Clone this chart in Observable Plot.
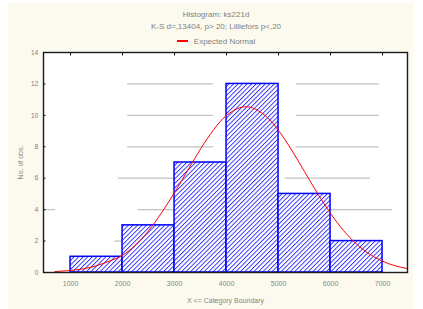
<!DOCTYPE html>
<html><head><meta charset="utf-8">
<script src="https://cdn.jsdelivr.net/npm/d3@7"></script>
<script src="https://cdn.jsdelivr.net/npm/@observablehq/plot@0.6"></script>
<style>
html,body{margin:0;padding:0;background:#fff;}
#wrap{position:relative;width:423px;height:309px;overflow:hidden;font-family:"Liberation Sans",Arial,sans-serif;}
#bg{position:absolute;left:8px;top:3px;width:405px;height:306px;background:#fcfaef;}
#chart{position:absolute;left:0;top:0;}
.t{position:absolute;left:0;width:432px;text-align:center;font-size:8px;color:#808080;line-height:10px;white-space:nowrap;}
.sw{display:inline-block;width:11px;height:1.5px;background:#ff0000;vertical-align:middle;margin-right:6px;position:relative;top:-1px;}
</style></head><body>
<div id="wrap"><div id="bg"></div><div id="chart"></div>
<div class="t" id="t1" style="top:10px"></div>
<div class="t" id="t2" style="top:22px"></div>
<div class="t" id="t3" style="top:37px"></div>
</div>
<script>
// ---- data ----
const titleText = "Histogram: ks221d";
const subtitleText = "K-S d=,13404, p> 20; Lilliefors p<,20";
const legendText = "Expected Normal";
const xLabel = "X <= Category Boundary";
const yLabel = "No. of obs.";
const binStart = [1000, 2000, 3000, 4000, 5000, 6000];
const binEnd   = [2000, 3000, 4000, 5000, 6000, 7000];
const binCount = [1, 3, 7, 12, 5, 2];
const xTicks = [1000, 2000, 3000, 4000, 5000, 6000, 7000];
const yTicks = [0, 2, 4, 6, 8, 10, 12, 14];
const curveX = [700, 1000, 1250, 1500, 1750, 2000, 2250, 2500, 2750, 3000, 3250, 3500, 3750, 4000, 4250, 4370, 4500, 4750, 5000, 5250, 5500, 5750, 6000, 6250, 6500, 6750, 7000, 7250, 7480];
const curveY = [0.06, 0.13, 0.24, 0.43, 0.73, 1.1, 1.75, 2.65, 3.8, 5.09, 6.48, 7.86, 9.08, 10.0, 10.48, 10.54, 10.47, 9.97, 9.04, 7.8, 6.42, 5.03, 3.76, 2.67, 1.81, 1.17, 0.72, 0.42, 0.25];
const gridY  = [12, 12, 10, 10, 8, 8, 6, 6, 4, 4, 4, 2];
const gridX1 = [2100, 5340, 2100, 5340, 2100, 5340, 1920, 5130, 500, 2300, 6000, 1850];
const gridX2 = [3750, 6940, 3750, 6940, 3750, 6940, 3900, 6770, 710, 3900, 7190, 2100];

// ---- tables ----
const bins = binCount.map((c, i) => ({x0: binStart[i], x1: binEnd[i], count: c}));
const curve = curveX.map((x, i) => ({x, y: curveY[i]}));
const grid = gridY.map((y, i) => ({y, x1: gridX1[i], x2: gridX2[i]}));

document.getElementById("t1").textContent = titleText;
document.getElementById("t2").textContent = subtitleText;
const t3 = document.getElementById("t3");
t3.innerHTML = '<span class="sw"></span>';
t3.appendChild(document.createTextNode(legendText));

const gray = "#858585";
const svg = Plot.plot({
  width: 423, height: 309,
  marginLeft: 43, marginRight: 16, marginTop: 52, marginBottom: 37,
  style: {background: "transparent", fontFamily: "Liberation Sans, Arial, sans-serif"},
  x: {domain: [480, 7480]},
  y: {domain: [0, 14]},
  marks: [
    Plot.frame({fill: "white"}),
    Plot.ruleY(grid, {y: "y", x1: "x1", x2: "x2", stroke: "#c2c2c2", strokeWidth: 1.2}),
    Plot.rectY(bins, {x1: "x0", x2: "x1", y: "count", fill: "url(#hatch)", stroke: "#0000ff", strokeWidth: 1.5}),
    Plot.line(curve, {x: "x", y: "y", stroke: "#ff0000", strokeWidth: 1, curve: "natural"}),
    Plot.frame({stroke: "#1a1a1a", strokeWidth: 1.4}),
    Plot.axisX(xTicks, {anchor: "bottom", tickSize: 0, tickPadding: 9, fontSize: 7, fill: gray,
      tickFormat: d => String(d), label: xLabel, labelAnchor: "center", labelOffset: 30, labelArrow: "none"}),
    Plot.axisX(xTicks, {anchor: "top", tickSize: -2.5, tickFormat: () => "", label: null, stroke: "#111"}),
    Plot.axisY(yTicks, {anchor: "left", tickSize: 0, tickPadding: 5, fontSize: 7, fill: gray,
      tickFormat: d => String(d), label: yLabel, labelAnchor: "center", labelOffset: 25, labelArrow: "none"}),
    Plot.axisY(yTicks, {anchor: "left", tickSize: -2.5, tickFormat: () => "", label: null, stroke: "#111"})
  ]
});
const ns = "http://www.w3.org/2000/svg";
const defs = document.createElementNS(ns, "defs");
defs.innerHTML = '<pattern id="hatch" patternUnits="userSpaceOnUse" width="3.2" height="3.2" patternTransform="rotate(45)"><rect width="3.2" height="3.2" fill="white"/><rect x="0" width="0.9" height="3.2" fill="#2a2aff"/></pattern>';
svg.insertBefore(defs, svg.firstChild);
document.getElementById("chart").appendChild(svg);
</script>
</body></html>
